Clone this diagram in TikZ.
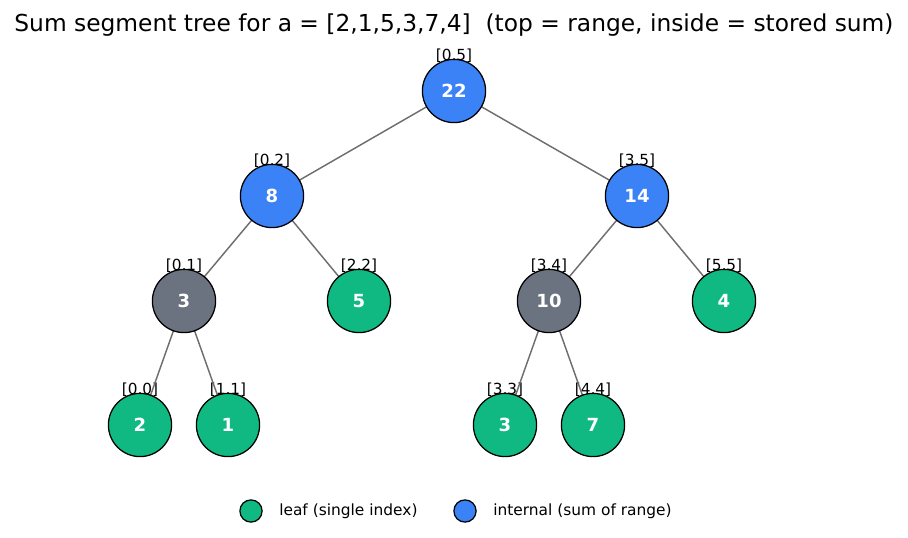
\documentclass[tikz,border=0pt]{standalone}
\usepackage{fontspec}
\setmainfont{DejaVu Sans}
\usetikzlibrary{backgrounds}
\definecolor{leafgreen}{HTML}{10B981}
\definecolor{innerblue}{HTML}{3B82F6}
\definecolor{midgray}{HTML}{6B7280}
\definecolor{edgegray}{HTML}{6E6E6E}
\begin{document}
\begin{tikzpicture}[x=0.72pt,y=-0.72pt,
  sumnode/.style={circle,draw=black,line width=0.9pt,minimum size=45.5pt,inner sep=0pt,
    text=white,font=\fontsize{13}{15}\selectfont\bfseries},
  leafnode/.style={sumnode,fill=leafgreen},
  internalnode/.style={sumnode,fill=innerblue},
  graynode/.style={sumnode,fill=midgray},
  rnglbl/.style={font=\fontsize{11}{13}\selectfont,inner sep=0pt},
  treeedge/.style={draw=edgegray,line width=1.05pt},
  legdot/.style={circle,draw=black,line width=0.9pt,minimum size=16pt,inner sep=0pt},
  legtext/.style={anchor=west,inner sep=0pt,font=\fontsize{11.1}{13}\selectfont}]
\useasboundingbox (0,0) rectangle (908,538);
% Title
\node (title) at (454,25) {\fontsize{16.8}{19}\selectfont Sum segment tree for a = [2,1,5,3,7,4]\ \ (top = range, inside = stored sum)};
% Root
\node[internalnode] (n05) at (454,91) {22};
% Level 1
   \node[internalnode] (n02) at (272,196) {8};
   \node[internalnode] (n35) at (637,196) {14};
   % Level 2
   \node[graynode] (n01) at (184,301) {3};
   \node[leafnode] (n22) at (359,301) {5};
   \node[graynode] (n34) at (549,301) {10};
   \node[leafnode] (n55) at (724,301) {4};
   % Level 3 (leaves)
   \node[leafnode] (n00) at (140,425) {2};
   \node[leafnode] (n11) at (228,425) {1};
   \node[leafnode] (n33) at (505,425) {3};
   \node[leafnode] (n44) at (593,425) {7};
   %
   % Ranges above the nodes and tree edges, behind the circles:
   \begin{pgfonlayer}{background}
   \node[rnglbl] (l05) at (454,56) {[0,5]};
   \node[rnglbl] (l02) at (272,161) {[0,2]};
   \node[rnglbl] (l35) at (637,161) {[3,5]};
   \node[rnglbl] (l01) at (184,266) {[0,1]};
   \node[rnglbl] (l22) at (359,266) {[2,2]};
   \node[rnglbl] (l34) at (549,266) {[3,4]};
   \node[rnglbl] (l55) at (724,266) {[5,5]};
   \node[rnglbl] (l00) at (140,390) {[0,0]};
   \node[rnglbl] (l11) at (228,390) {[1,1]};
   \node[rnglbl] (l33) at (505,390) {[3,3]};
   \node[rnglbl] (l44) at (593,390) {[4,4]};
   \draw[treeedge] (n05.center) -- (n02.center);
   \draw[treeedge] (n05.center) -- (n35.center);
   \draw[treeedge] (n02.center) -- (n01.center);
   \draw[treeedge] (n02.center) -- (n22.center);
   \draw[treeedge] (n35.center) -- (n34.center);
   \draw[treeedge] (n35.center) -- (n55.center);
   \draw[treeedge] (n01.center) -- (n00.center);
   \draw[treeedge] (n01.center) -- (n11.center);
   \draw[treeedge] (n34.center) -- (n33.center);
   \draw[treeedge] (n34.center) -- (n44.center);
   \end{pgfonlayer}
   % Legend
   \node[legdot,fill=leafgreen] (legleaf) at (251,511) {};
   \node[legtext] (legleaftxt) at (279,511) {leaf (single index)};
   \node[legdot,fill=innerblue] (leginner) at (465,511) {};
   \node[legtext] (leginnertxt) at (493,511) {internal (sum of range)};
\end{tikzpicture}
\end{document}
